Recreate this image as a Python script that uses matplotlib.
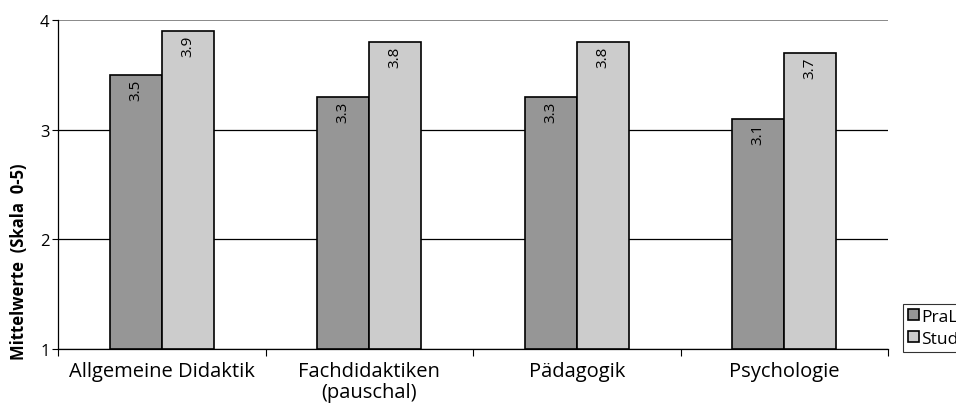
import matplotlib
matplotlib.use('Agg')
import matplotlib.pyplot as plt
import numpy as np

plt.rcParams['font.family'] = ['Open Sans', 'DejaVu Sans']

categories = ['Allgemeine Didaktik', 'Fachdidaktiken\n(pauschal)', 'Pädagogik', 'Psychologie']
series_names = ['PraLehrer', 'Studierende']
pral_values = [3.5, 3.3, 3.3, 3.1]
stud_values = [3.9, 3.8, 3.8, 3.7]

DARK = '#969696'
LIGHT = '#cccccc'

fig = plt.figure(figsize=(9.56, 4.10), dpi=100)
# axes box in pixels: x 58..888, y 21..350
ax = fig.add_axes([58 / 956, 1 - 350 / 410, 830 / 956, 329 / 410])

x = np.arange(len(categories))
w = 0.25
b1 = ax.bar(x - w / 2, np.array(pral_values) - 1, w, bottom=1, color=DARK,
            edgecolor='black', linewidth=1.2, label=series_names[0], zorder=3)
b2 = ax.bar(x + w / 2, np.array(stud_values) - 1, w, bottom=1, color=LIGHT,
            edgecolor='black', linewidth=1.2, label=series_names[1], zorder=3)

# value labels inside bars, rotated
for bars, vals in ((b1, pral_values), (b2, stud_values)):
    for rect, v in zip(bars, vals):
        ax.text(rect.get_x() + rect.get_width() / 2, v - 0.035, f'{v:.1f}',
                rotation=90, ha='center', va='top', fontsize=11, zorder=4)

ax.set_xlim(-0.5, len(categories) - 0.5)
ax.set_ylim(1, 4)
ax.set_yticks([1, 2, 3, 4])
ax.yaxis.grid(True, color='black', linewidth=0.9, zorder=0)
ax.set_axisbelow(True)
# top gridline is grey in the original
ax.get_ygridlines()[-1].set_color('#808080')
ax.get_ygridlines()[-1].set_linewidth(1.3)

ax.set_xticks(x)
ax.set_xticklabels(categories, fontsize=14.5, linespacing=1.05)
ax.tick_params(axis='x', length=0, pad=9)
ax.set_xticks(np.arange(len(categories) + 1) - 0.5, minor=True)
ax.tick_params(axis='x', which='minor', length=5, width=0.8, direction='out')
ax.tick_params(axis='y', length=4, width=0.8, labelsize=12, pad=2)

for s in ('top', 'right'):
    ax.spines[s].set_visible(False)
ax.spines['left'].set_linewidth(0.9)
ax.spines['bottom'].set_linewidth(0.9)

# y label sits low in the original, not centred on the axis
fig.text(19 / 956, 1 - 262 / 410, 'Mittelwerte  (Skala  0-5)', rotation=90,
         ha='center', va='center', fontsize=12, fontweight='bold')

leg = fig.legend(loc='lower left', bbox_to_anchor=(903 / 956, 1 - 353 / 410),
                 fontsize=12.5, frameon=True, fancybox=False, edgecolor='black',
                 handlelength=0.6, handleheight=0.6, handletextpad=0.15,
                 borderpad=0.3, labelspacing=0.35, borderaxespad=0)
leg.get_frame().set_linewidth(0.8)

fig.savefig('out.png', dpi=100)
